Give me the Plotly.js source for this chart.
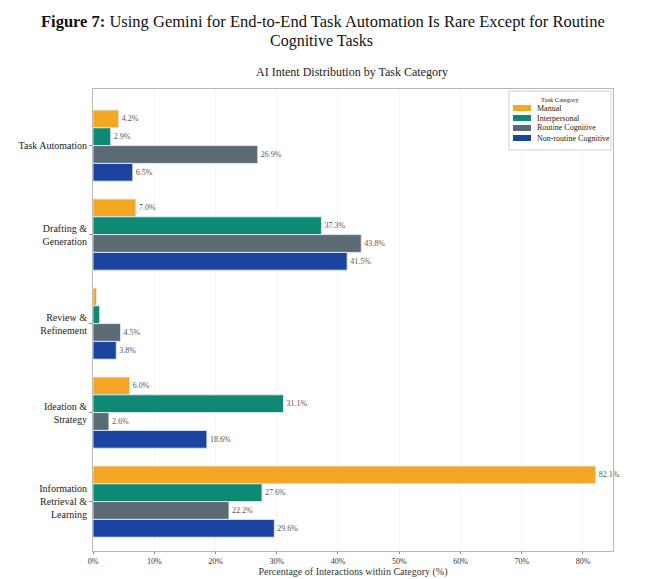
<!DOCTYPE html>
<html><head><meta charset="utf-8">
<script src="https://cdn.plot.ly/plotly-3.0.1.min.js"></script>
<style>body{margin:0;background:#fff}#c{width:645px;height:579px}</style>
</head><body><div id="c"></div>
<script>
const categories = ["Task Automation", "Drafting &<br>Generation", "Review &<br>Refinement", "Ideation &<br>Strategy", "Information<br>Retrieval &<br>Learning"];
const seriesNames = ["Manual", "Interpersonal", "Routine Cognitive", "Non-routine Cognitive"];
const manual = [4.2, 7.0, 0.6, 6.0, 82.1];
const interpersonal = [2.9, 37.3, 1.1, 31.1, 27.6];
const routineCognitive = [26.9, 43.8, 4.5, 2.6, 22.2];
const nonroutineCognitive = [6.5, 41.5, 3.8, 18.6, 29.6];
const xTicks = [0, 10, 20, 30, 40, 50, 60, 70, 80];
const colors = ["#F5A623", "#0E8A74", "#5A6B73", "#1A449F"];

const serif = "Liberation Serif, DejaVu Serif, serif";
const W = 645, H = 579, M = {l: 93, r: 32, t: 89, b: 28};
const pw = W - M.l - M.r, ph = H - M.t - M.b;
const px = x => (x - M.l) / pw;
const py = y => (H - M.b - y) / ph;

const seriesVals = [manual, interpersonal, routineCognitive, nonroutineCognitive];
const traces = seriesVals.map((vals, i) => ({
  type: "bar", orientation: "h", name: seriesNames[i],
  y: categories, x: vals,
  text: vals.map(v => v >= 2 ? v.toFixed(1) + "%" : ""),
  textposition: "outside", cliponaxis: false,
  textfont: {family: serif, size: 8, color: "#555"},
  marker: {color: colors[i], line: {color: "rgba(225,235,250,0.9)", width: 1}},
  hoverinfo: "skip", showlegend: false
}));

const shapes = [{type: "rect", xref: "paper", yref: "paper",
  x0: px(509), x1: px(611), y0: py(150), y1: py(91),
  line: {color: "#d0d0d0", width: 1}, fillcolor: "rgba(255,255,255,0.9)", layer: "above"}];
const annotations = [
  {xref: "paper", yref: "paper", x: px(323), y: py(22), xanchor: "center", yanchor: "middle",
   text: "<b>Figure 7:</b> Using Gemini for End-to-End Task Automation Is Rare Except for Routine",
   showarrow: false, font: {family: serif, size: 16.5, color: "#111"}},
  {xref: "paper", yref: "paper", x: px(321), y: py(40.5), xanchor: "center", yanchor: "middle",
   text: "Cognitive Tasks", showarrow: false, font: {family: serif, size: 16, color: "#111"}},
  {xref: "paper", yref: "paper", x: px(352), y: py(72), xanchor: "center", yanchor: "middle",
   text: "AI Intent Distribution by Task Category", showarrow: false,
   font: {family: serif, size: 12, color: "#222"}},
  {xref: "paper", yref: "paper", x: px(560), y: py(99), xanchor: "center", yanchor: "middle",
   text: "Task Category", showarrow: false, font: {family: serif, size: 6.5, color: "#222"}}
];
seriesNames.forEach((n, i) => {
  const yc = 108 + i * 10;
  shapes.push({type: "rect", xref: "paper", yref: "paper", x0: px(513), x1: px(531),
    y0: py(yc + 3), y1: py(yc - 3), fillcolor: colors[i], line: {width: 0}, layer: "above"});
  annotations.push({xref: "paper", yref: "paper", x: px(535), y: py(yc), xanchor: "left", yanchor: "middle",
    text: n, showarrow: false, font: {family: serif, size: 8, color: "#222"}});
});

const layout = {
  width: W, height: H,
  margin: M,
  paper_bgcolor: "#fff", plot_bgcolor: "#fff",
  barmode: "group", bargap: 0.2, bargroupgap: 0,
  showlegend: false,
  xaxis: {range: [0, 84.9], tickvals: xTicks, ticktext: xTicks.map(v => v + "%"),
    showgrid: true, gridcolor: "#f4f4f4", zeroline: false,
    showline: true, linecolor: "#b8b8b8", linewidth: 1, mirror: true,
    ticks: "outside", ticklen: 2, tickcolor: "#888",
    tickfont: {family: serif, size: 8, color: "#333"},
    title: {text: "Percentage of Interactions within Category (%)", standoff: 2,
      font: {family: serif, size: 10, color: "#333"}}},
  yaxis: {type: "category", range: [4.555, -0.636], showgrid: false, zeroline: false,
    showline: true, linecolor: "#b8b8b8", linewidth: 1, mirror: true,
    ticks: "outside", ticklen: 3, tickcolor: "#888",
    tickfont: {family: serif, size: 10, color: "#222"}},
  shapes: shapes,
  annotations: annotations
};
Plotly.newPlot("c", traces, layout, {displayModeBar: false, staticPlot: true});
</script></body></html>
